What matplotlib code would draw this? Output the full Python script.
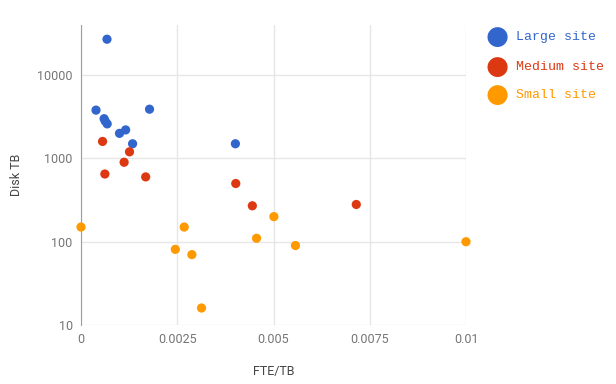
import matplotlib
matplotlib.use("Agg")
import matplotlib.pyplot as plt
from matplotlib.ticker import FixedLocator, FixedFormatter, NullLocator

# data
large_x = [0.000675, 0.00039, 0.0006, 0.00063, 0.00068, 0.001, 0.00116, 0.00134, 0.00178, 0.00401]
large_y = [27000, 3800, 3000, 2800, 2600, 2000, 2200, 1500, 3900, 1500]

medium_x = [0.00056, 0.00126, 0.00112, 0.00062, 0.00168, 0.00402, 0.00445, 0.00715]
medium_y = [1600, 1200, 900, 650, 600, 500, 270, 280]

small_x = [0.0, 0.00268, 0.00245, 0.00288, 0.00313, 0.00501, 0.00456, 0.00557, 0.01]
small_y = [150, 150, 81, 70, 16, 200, 110, 90, 100]

series_names = ["Large site", "Medium site", "Small site"]
colors = ["#3366cc", "#dc3912", "#ff9900"]

x_ticks = [0, 0.0025, 0.005, 0.0075, 0.01]
x_labels = ["0", "0.0025", "0.005", "0.0075", "0.01"]
y_ticks = [10, 100, 1000, 10000]
y_labels = ["10", "100", "1000", "10000"]

plt.rcParams["font.family"] = ["Roboto", "DejaVu Sans"]

fig = plt.figure(figsize=(6.16, 3.84), dpi=100)
ax = fig.add_axes([81/616, 1-325/384, 385/616, 300/384])

series = [(large_x, large_y), (medium_x, medium_y), (small_x, small_y)]
for (xs, ys), c in zip(series, colors):
    ax.scatter(xs, ys, s=44, color=c, edgecolors="none", zorder=3, clip_on=False)

ax.set_yscale("log")
ax.set_xlim(0, 0.01)
ax.set_ylim(10, 40000)
ax.xaxis.set_major_locator(FixedLocator(x_ticks))
ax.xaxis.set_major_formatter(FixedFormatter(x_labels))
ax.yaxis.set_major_locator(FixedLocator(y_ticks))
ax.yaxis.set_major_formatter(FixedFormatter(y_labels))
ax.yaxis.set_minor_locator(NullLocator())

ax.grid(True, color="#e6e6e6", linewidth=1, zorder=0)
for s in ["top", "right", "bottom"]:
    ax.spines[s].set_visible(False)
ax.spines["left"].set_color("#9e9e9e")
ax.spines["left"].set_zorder(2)
ax.tick_params(length=0, labelsize=9, labelcolor="#757575", pad=6)

ax.set_xlabel("FTE/TB", fontsize=9, color="#444444", va="center")
ax.set_ylabel("Disk TB", fontsize=9, color="#444444", va="center")
ax.xaxis.set_label_coords(0.5, (325-372)/300)
ax.yaxis.set_label_coords((17-81)/385, 0.5)

# legend on the right
leg_y = [37, 67, 95]
for name, c, py in zip(series_names, colors, leg_y):
    fig.text(497/616, 1-py/384, "\u25cf", color=c, fontsize=19, ha="center", va="center",
             family="DejaVu Sans")
    fig.text(516/616, 1-py/384, name, color=c, fontsize=9.5, ha="left", va="center",
             family="Liberation Mono")

fig.savefig("out.png", dpi=100)
